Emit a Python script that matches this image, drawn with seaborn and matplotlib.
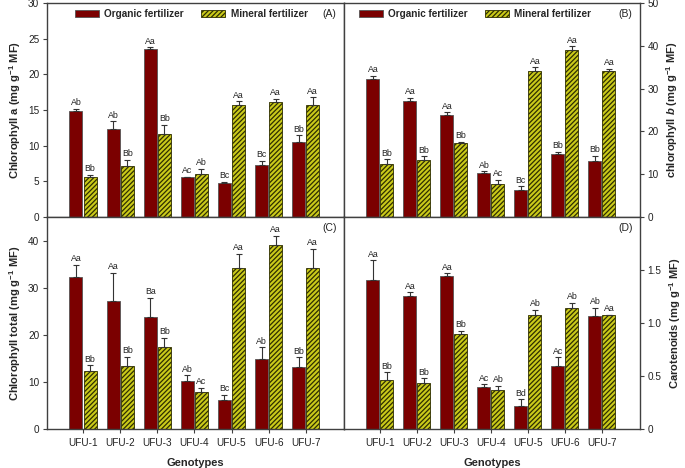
import matplotlib
matplotlib.use("Agg")
import matplotlib.pyplot as plt
from matplotlib.patches import Patch
import seaborn as sns
import pandas as pd
import numpy as np

genotypes = ['UFU-1', 'UFU-2', 'UFU-3', 'UFU-4', 'UFU-5', 'UFU-6', 'UFU-7']
fert_levels = ['Organic fertilizer', 'Mineral fertilizer']

# Panel A - chlorophyll a
chla_org = [14.9, 12.4, 23.5, 5.57, 4.82, 7.35, 10.58]
chla_org_err = [0.3, 1.0, 0.3, 0.1, 0.15, 0.55, 0.85]
chla_min = [5.57, 7.16, 11.7, 5.99, 15.77, 16.1, 15.77]
chla_min_err = [0.37, 0.9, 1.26, 0.8, 0.43, 0.5, 1.0]
chla_org_lab = ['Ab', 'Ab', 'Aa', 'Ac', 'Bc', 'Bc', 'Bb']
chla_min_lab = ['Bb', 'Bb', 'Bb', 'Ab', 'Aa', 'Aa', 'Aa']

# Panel B - chlorophyll b
chlb_org = [32.3, 27.2, 23.8, 10.2, 6.27, 14.7, 13.2]
chlb_org_err = [0.7, 0.6, 0.65, 0.5, 0.9, 0.6, 1.1]
chlb_min = [12.46, 13.4, 17.4, 7.76, 34.2, 39.1, 34.2]
chlb_min_err = [1.0, 0.8, 0.15, 0.95, 0.8, 0.8, 0.4]
chlb_org_lab = ['Aa', 'Aa', 'Aa', 'Ab', 'Bc', 'Bb', 'Bb']
chlb_min_lab = ['Bb', 'Bb', 'Bb', 'Ac', 'Aa', 'Aa', 'Aa']

# Panel C - chlorophyll total
chlt_org = [32.2, 27.1, 23.7, 10.14, 6.2, 14.8, 13.2]
chlt_org_err = [2.7, 6.1, 4.2, 1.25, 1.1, 2.5, 2.0]
chlt_min = [12.4, 13.3, 17.3, 7.75, 34.1, 39.1, 34.1]
chlt_min_err = [1.1, 2.05, 2.1, 1.05, 3.1, 1.95, 4.1]
chlt_org_lab = ['Aa', 'Aa', 'Ba', 'Ab', 'Bc', 'Ab', 'Bb']
chlt_min_lab = ['Bb', 'Bb', 'Bb', 'Ac', 'Aa', 'Aa', 'Aa']

# Panel D - carotenoids
car_org = [1.41, 1.253, 1.44, 0.397, 0.219, 0.597, 1.07]
car_org_err = [0.18, 0.037, 0.03, 0.023, 0.06, 0.078, 0.075]
car_min = [0.4625, 0.434, 0.9, 0.372, 1.075, 1.14, 1.075]
car_min_err = [0.072, 0.044, 0.025, 0.038, 0.05, 0.05, 0.005]
car_org_lab = ['Aa', 'Aa', 'Aa', 'Ac', 'Bd', 'Ac', 'Ab']
car_min_lab = ['Bb', 'Bb', 'Bb', 'Ab', 'Ab', 'Ab', 'Aa']

ORG_COLOR = '#7b0000'
MIN_COLOR = '#caca1a'
HATCH_COLOR = '#2e2e00'

sns.set_theme(style='white')
plt.rcParams['font.family'] = ['Liberation Sans', 'DejaVu Sans']
plt.rcParams['mathtext.fontset'] = 'custom'
plt.rcParams['mathtext.rm'] = 'Liberation Sans:bold'
plt.rcParams['mathtext.it'] = 'Liberation Sans:bold:italic'
plt.rcParams['mathtext.bf'] = 'Liberation Sans:bold'
plt.rcParams['hatch.linewidth'] = 0.9
plt.rcParams['hatch.color'] = HATCH_COLOR

fig = plt.figure(figsize=(6.85, 4.68), dpi=100)
L, M, R = 47 / 685, 344 / 685, 640 / 685
T, MID, B = 1 - 3 / 468, 1 - 217 / 468, 1 - 429 / 468
axA = fig.add_axes([L, MID, M - L, T - MID])
axB = fig.add_axes([M, MID, R - M, T - MID])
axC = fig.add_axes([L, B, M - L, MID - B])
axD = fig.add_axes([M, B, R - M, MID - B])


def panel(ax, org, org_err, mn, mn_err, org_lab, mn_lab, ylim, yticks, tag,
          ylabel, right=False, bottom=False, legend=False, leg_x=0.09):
    df = pd.DataFrame({
        'Genotype': genotypes * 2,
        'Fertilizer': [fert_levels[0]] * 7 + [fert_levels[1]] * 7,
        'value': list(org) + list(mn),
    })
    sns.barplot(data=df, x='Genotype', y='value', hue='Fertilizer',
                order=genotypes, hue_order=fert_levels,
                palette=[ORG_COLOR, MIN_COLOR], width=0.76, gap=0.08,
                errorbar=None, ax=ax, legend=False, saturation=1)
    errs = [org_err, mn_err]
    labs = [org_lab, mn_lab]
    bar_conts = list(ax.containers)
    for i, cont in enumerate(bar_conts):
        xs, hs = [], []
        for bar in cont.patches:
            xs.append(bar.get_x() + bar.get_width() / 2)
            hs.append(bar.get_height())
            if i == 1:
                bar.set_hatch('///////')
                bar.set_edgecolor(HATCH_COLOR)
                bar.set_linewidth(0.6)
            else:
                bar.set_edgecolor('#555555')
                bar.set_linewidth(0.6)
        xs = np.array(xs)
        hs = np.array(hs)
        e = np.array(errs[i])
        ax.errorbar(xs, hs, yerr=[np.zeros_like(e), e], fmt='none',
                    ecolor='#333333', elinewidth=0.8, capsize=2.5,
                    capthick=0.8, zorder=3)
        for x, h, ee, lab in zip(xs, hs, e, labs[i]):
            ax.annotate(lab, (x, h + ee), xytext=(0, 1.2),
                        textcoords='offset points', ha='center', va='bottom',
                        fontsize=6.3, color='#222222')
    ax.set_xlim(-0.97, 7.03)
    ax.set_ylim(*ylim)
    ax.set_yticks(yticks)
    ax.set_yticklabels([('%g' % t) if not isinstance(t, float) or t == 0 else '%.1f' % t
                        for t in yticks])
    for sp in ax.spines.values():
        sp.set_color('#404040')
        sp.set_linewidth(1.0)
    ax.tick_params(axis='both', direction='out', length=3, width=0.8,
                   color='#404040', labelsize=7.2, labelcolor='#222222', pad=2.5)
    if right:
        ax.yaxis.tick_right()
        ax.yaxis.set_label_position('right')
        ax.tick_params(axis='y', left=False, right=True)
    else:
        ax.tick_params(axis='y', left=True, right=False)
    if bottom:
        ax.tick_params(axis='x', bottom=True, labelbottom=True, pad=3.5)
        ax.set_xlabel('Genotypes', fontsize=8, fontweight='bold', labelpad=7)
    else:
        ax.tick_params(axis='x', bottom=False, labelbottom=False)
        ax.set_xlabel('')
    ax.set_ylabel(ylabel, fontsize=8, fontweight='bold', labelpad=4)
    ax.text(0.975, 0.97, tag, transform=ax.transAxes, ha='right', va='top',
            fontsize=7.5, color='#222222')
    if legend:
        handles = [Patch(facecolor=ORG_COLOR, edgecolor='#555555', linewidth=0.6),
                   Patch(facecolor=MIN_COLOR, edgecolor=HATCH_COLOR, hatch='///////',
                         linewidth=0.6)]
        ax.legend(handles, fert_levels, ncol=2, frameon=False,
                  loc='center left', bbox_to_anchor=(leg_x, 0.948),
                  prop={'weight': 'bold', 'size': 7.2}, handlelength=2.4,
                  handleheight=0.75, handletextpad=0.55, columnspacing=1.7,
                  borderaxespad=0, borderpad=0)


panel(axA, chla_org, chla_org_err, chla_min, chla_min_err, chla_org_lab,
      chla_min_lab, (0, 30), [0, 5, 10, 15, 20, 25, 30], '(A)',
      r'Chlorophyll a (mg g$^{-1}$ MF)', legend=True, leg_x=0.094)
panel(axB, chlb_org, chlb_org_err, chlb_min, chlb_min_err, chlb_org_lab,
      chlb_min_lab, (0, 50), [0, 10, 20, 30, 40, 50], '(B)',
      r'chlorophyll $b$ (mg g$^{-1}$ MF)', right=True, legend=True, leg_x=0.05)
panel(axC, chlt_org, chlt_org_err, chlt_min, chlt_min_err, chlt_org_lab,
      chlt_min_lab, (0, 45), [0, 10, 20, 30, 40], '(C)',
      r'Chlorophyll total (mg g$^{-1}$ MF)', bottom=True)
panel(axD, car_org, car_org_err, car_min, car_min_err, car_org_lab,
      car_min_lab, (0, 2.0), [0, 0.5, 1.0, 1.5], '(D)',
      r'Carotenoids (mg g$^{-1}$ MF)', right=True, bottom=True)

fig.savefig('out.png', dpi=100)
